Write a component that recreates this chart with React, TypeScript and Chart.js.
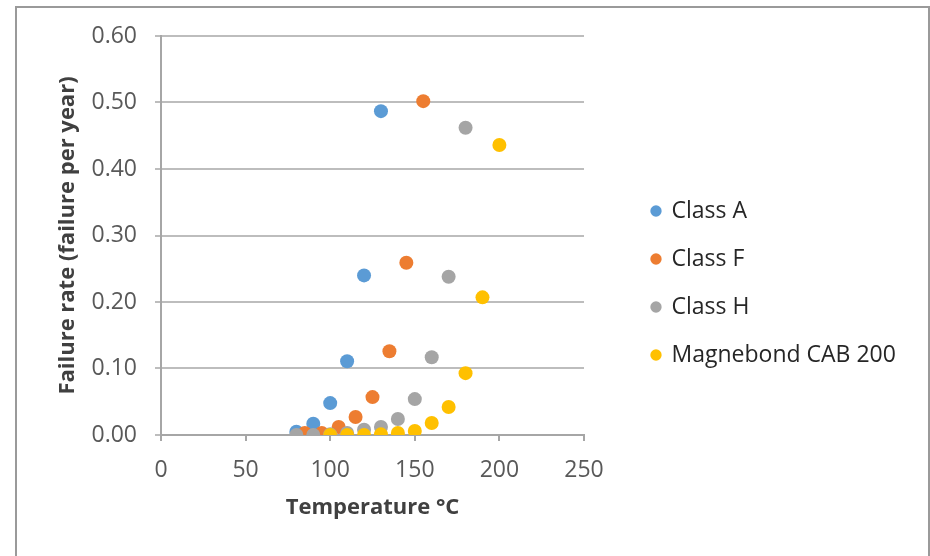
import React, { useEffect, useRef } from 'react';
import { Chart, registerables } from 'chart.js';

Chart.register(...registerables);

// ---- data ----
const SERIES_NAMES = ['Class A', 'Class F', 'Class H', 'Magnebond CAB 200'];
const SERIES_COLORS = ['#5B9BD5', '#ED7D31', '#A5A5A5', '#FFC000'];

const CLASS_A_X = [80, 90, 100, 110, 120, 130];
const CLASS_A_Y = [0.005, 0.017, 0.048, 0.111, 0.24, 0.487];

const CLASS_F_X = [85, 95, 105, 115, 125, 135, 145, 155];
const CLASS_F_Y = [0.003, 0.003, 0.012, 0.027, 0.057, 0.126, 0.259, 0.502];

const CLASS_H_X = [80, 90, 100, 110, 120, 130, 140, 150, 160, 170, 180];
const CLASS_H_Y = [0, 0, 0.001, 0.003, 0.008, 0.012, 0.024, 0.054, 0.117, 0.238, 0.462];

const MAGNEBOND_X = [100, 110, 120, 130, 140, 150, 160, 170, 180, 190, 200];
const MAGNEBOND_Y = [0, 0, 0, 0.001, 0.003, 0.006, 0.018, 0.042, 0.093, 0.207, 0.436];

const X_TICKS = [0, 50, 100, 150, 200, 250];
const Y_TICKS = [0, 0.1, 0.2, 0.3, 0.4, 0.5, 0.6];

const X_TITLE = 'Temperature °C';
const Y_TITLE = 'Failure rate (failure per year)';

const SERIES_X = [CLASS_A_X, CLASS_F_X, CLASS_H_X, MAGNEBOND_X];
const SERIES_Y = [CLASS_A_Y, CLASS_F_Y, CLASS_H_Y, MAGNEBOND_Y];

// ---- layout constants ----
const W = 930;
const H = 556;
const FONT = "'Open Sans', 'DejaVu Sans', sans-serif";
const GRID = '#bdbdbd';
const AXIS = '#a6a6a6';

const legendPlacement = {
  id: 'legendPlacement',
  beforeLayout(chart: any) {
    const lg = chart.legend;
    if (lg && !lg.__patched) {
      const orig = lg.fit.bind(lg);
      lg.fit = function () {
        orig();
        this.width = 346;
      };
      lg.__patched = true;
    }
  },
  afterLayout(chart: any) {
    const lg = chart.legend;
    if (!lg) return;
    lg.left = 627;
    lg.right = lg.left + lg.width;
    lg.top = 174.5;
    lg.bottom = lg.top + 260;
  },
};

export default function App() {
  const ref = useRef<HTMLCanvasElement>(null);

  useEffect(() => {
    document.body.style.margin = '0';
    document.body.style.overflow = 'hidden';
    const canvas = ref.current;
    if (!canvas) return;

    const datasets = SERIES_NAMES.map((name, i) => ({
      label: name,
      data: SERIES_X[i].map((x, j) => ({ x, y: SERIES_Y[i][j] })),
      backgroundColor: SERIES_COLORS[i],
      borderColor: SERIES_COLORS[i],
      borderWidth: 0,
      pointRadius: 7,
      pointHoverRadius: 7,
      pointStyle: 'circle' as const,
      order: SERIES_NAMES.length - i,
    }));

    const chart = new Chart(canvas, {
      type: 'scatter',
      data: { datasets },
      plugins: [legendPlacement],
      options: {
        responsive: false,
        animation: false,
        events: [],
        layout: { padding: { top: 36, left: 0, right: 0, bottom: 0 } },
        plugins: {
          tooltip: { enabled: false },
          legend: {
            display: true,
            position: 'right',
            align: 'start',
            labels: {
              usePointStyle: true,
              pointStyle: 'circle',
              boxWidth: 8,
              boxHeight: 8,
              padding: 25,
              color: '#262626',
              font: { family: FONT, size: 23 },
              sort: (a: any, b: any) => a.datasetIndex - b.datasetIndex,
            },
          },
        },
        scales: {
          x: {
            type: 'linear',
            min: 0,
            max: 250,
            afterBuildTicks: (scale: any) => {
              scale.ticks = X_TICKS.map((v) => ({ value: v }));
            },
            afterFit: (scale: any) => {
              scale.height = 121;
            },
            ticks: {
              color: '#595959',
              font: { family: FONT, size: 23 },
              padding: 16,
              maxRotation: 0,
              autoSkip: false,
              callback: (v: any) => String(v),
            },
            grid: {
              display: true,
              drawOnChartArea: false,
              drawTicks: true,
              tickLength: 6,
              color: AXIS,
              lineWidth: 2,
            },
            border: { display: true, color: AXIS, width: 2 },
            title: {
              display: true,
              text: X_TITLE,
              color: '#404040',
              font: { family: FONT, size: 22, weight: 'bold' },
              padding: { top: 0, bottom: 35 },
            },
          },
          y: {
            type: 'linear',
            min: 0,
            max: 0.6,
            afterBuildTicks: (scale: any) => {
              scale.ticks = Y_TICKS.map((v) => ({ value: v }));
            },
            afterFit: (scale: any) => {
              scale.width = 161;
            },
            ticks: {
              color: '#595959',
              font: { family: FONT, size: 23 },
              padding: 18,
              autoSkip: false,
              callback: (v: any) => Number(v).toFixed(2),
            },
            grid: {
              display: true,
              drawTicks: true,
              tickLength: 6,
              color: GRID,
              lineWidth: 2,
            },
            border: { display: true, color: AXIS, width: 2 },
            title: {
              display: true,
              text: Y_TITLE,
              color: '#404040',
              font: { family: FONT, size: 22, weight: 'bold' },
              padding: { top: 55, bottom: 0 },
            },
          },
        },
      },
    });

    return () => {
      chart.destroy();
    };
  }, []);

  return (
    <div style={{ position: 'fixed', left: 0, top: 0, width: W, height: H, background: '#fff', overflow: 'hidden' }}>
      <div
        style={{
          position: 'absolute',
          left: 15,
          top: 6,
          width: 915,
          height: 560,
          boxSizing: 'border-box',
          borderTop: '2px solid #9a9a9a',
          borderLeft: '2px solid #9a9a9a',
          borderRight: '2px solid #9a9a9a',
        }}
      />
      <canvas
        ref={ref}
        width={W}
        height={H}
        style={{ position: 'absolute', left: 0, top: 0, width: W, height: H, display: 'block' }}
      />
    </div>
  );
}
